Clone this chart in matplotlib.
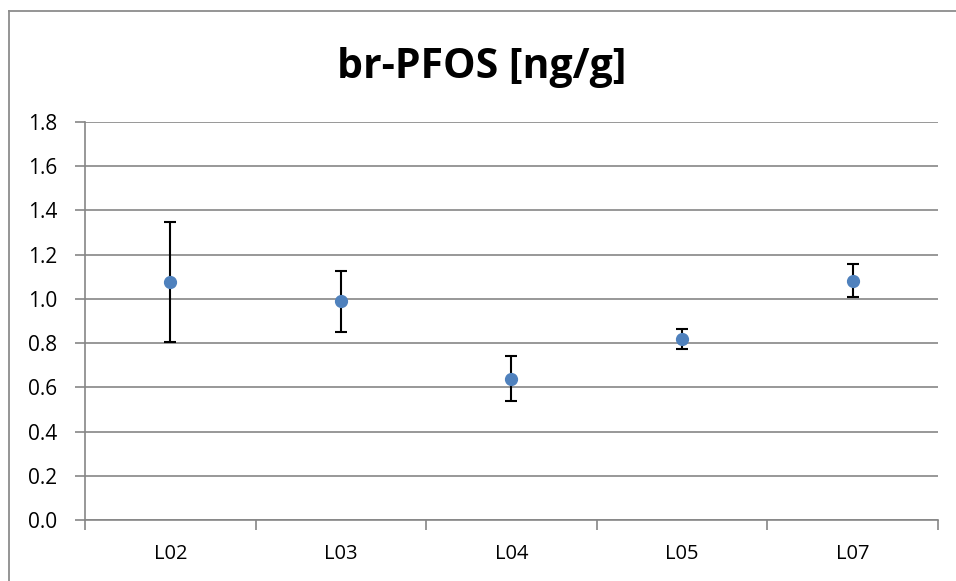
import matplotlib.pyplot as plt
from matplotlib.lines import Line2D

# Daten
labs = ['L02', 'L03', 'L04', 'L05', 'L07']
mittel = [1.077, 0.989, 0.639, 0.819, 1.082]
fehler = [0.270, 0.139, 0.102, 0.044, 0.074]

plt.rcParams['font.family'] = ['Open Sans', 'DejaVu Sans']

fig = plt.figure(figsize=(9.56, 5.81), dpi=100)
ax = fig.add_axes([0.0889, 0.105, 0.8922, 0.685])

# Rahmen (links und oben)
ytop = 1 - 10.5 / 581
fig.lines.append(Line2D([8.5 / 956, 8.5 / 956], [0, ytop], transform=fig.transFigure,
                        color='#8c8c8c', linewidth=1.3))
fig.lines.append(Line2D([8.5 / 956, 1], [ytop, ytop], transform=fig.transFigure,
                        color='#8c8c8c', linewidth=1.3))

x = [i + 0.5 for i in range(len(labs))]
ax.errorbar(x, mittel, yerr=fehler, fmt='o', color='#4f81bd', markersize=8.5,
            ecolor='black', elinewidth=1.5, capsize=4.5, capthick=1.5, zorder=3)

ax.set_xlim(0, len(labs))
ax.set_ylim(0, 1.8)
ax.set_yticks([i * 0.2 for i in range(10)])
ax.set_yticklabels([f'{i * 0.2:.1f}' for i in range(10)])
ax.set_xticks(range(len(labs) + 1))
ax.set_xticklabels([])
ax.set_xticks(x, minor=True)
ax.set_xticklabels(labs, minor=True)
ax.tick_params(axis='x', which='minor', length=0, pad=17, labelsize=14.5)
ax.tick_params(axis='x', which='major', length=7, color='#868686', width=1.2)
ax.tick_params(axis='y', length=7, color='#868686', width=1.2, labelsize=15, pad=13)

ax.grid(True, axis='y', color='#868686', linewidth=1.2)
ax.set_axisbelow(True)
for s in ['top', 'right']:
    ax.spines[s].set_visible(False)
for s in ['left', 'bottom']:
    ax.spines[s].set_color('#868686')
    ax.spines[s].set_linewidth(1.2)

fig.text(0.5037, 0.883, 'br-PFOS [ng/g]', ha='center', va='center', fontsize=29.5, fontweight='bold')

plt.savefig('out.png')
